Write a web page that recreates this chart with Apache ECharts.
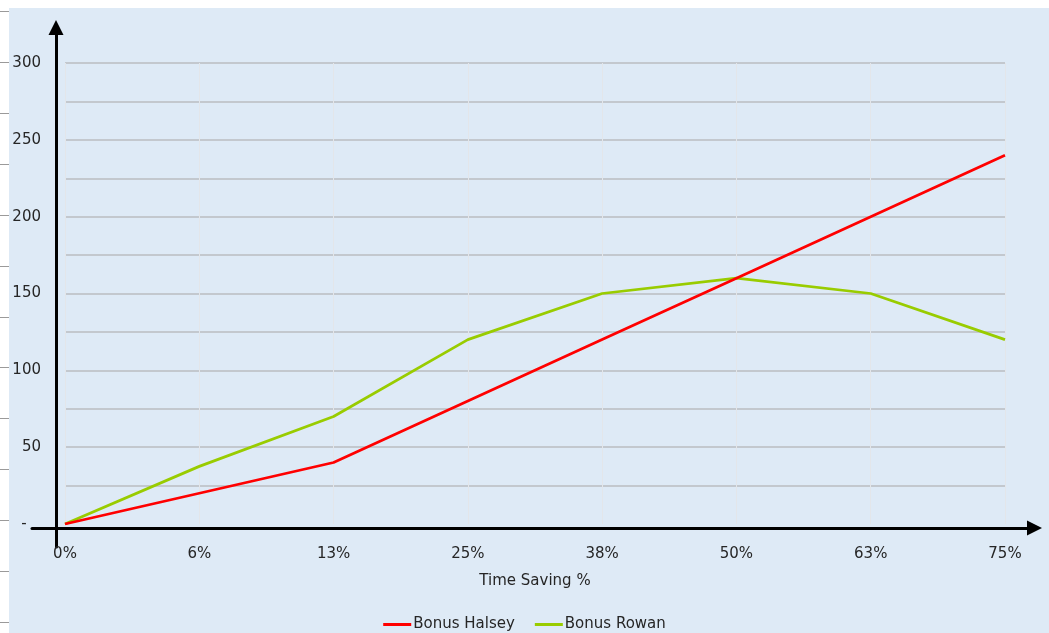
<!DOCTYPE html>
<html>
<head>
<meta charset="utf-8">
<title>Bonus vs Time Saving</title>
<script src="https://cdn.jsdelivr.net/npm/echarts@6/dist/echarts.min.js"></script>
<style>
  html, body { margin: 0; padding: 0; background: #ffffff; }
  #chart { width: 1049px; height: 633px; }
</style>
</head>
<body>
<div id="chart"></div>
<script>
// Time saving steps along the horizontal axis
const categories = ['0%', '6%', '13%', '25%', '38%', '50%', '63%', '75%'];
// Bonus values for each scheme
const bonusHalsey = [0, 20, 40, 80, 120, 160, 200, 240];
const bonusRowan = [0, 37.5, 70, 120, 150, 160, 150, 120];
// Value axis range
const yMin = 0;
const yMax = 300;
const yStep = 25;

const FONT = 'DejaVu Sans';
const TEXT = '#262626';

const chart = echarts.init(document.getElementById('chart'), null, { renderer: 'canvas' });

chart.setOption({
  animation: false,
  backgroundColor: '#ffffff',
  textStyle: { fontFamily: FONT },
  graphic: [
    {
      type: 'rect',
      z: -10,
      left: 9,
      top: 8,
      shape: { width: 1040, height: 625 },
      style: { fill: '#DEEAF6' },
      silent: true
    }
  ],
  legend: {
    top: 612,
    left: 'center',
    itemWidth: 28,
    itemHeight: 3,
    itemGap: 20,
    icon: 'rect',
    textStyle: { fontFamily: FONT, fontSize: 15, color: TEXT, padding: [0, 0, 0, -3] },
    data: ['Bonus Halsey', 'Bonus Rowan']
  },
  grid: [
    // plotting area
    { left: 65, right: 44, top: 63, bottom: 109 },
    // horizontal arrow axis
    { left: 32, right: 14.5, top: 300, bottom: 105 },
    // vertical arrow axis
    { left: 56, right: 900, top: 27.5, bottom: 86 },
    // tick strip at the left edge
    { left: 9, width: 1, top: 11.7, bottom: 11 }
  ],
  xAxis: [
    {
      gridIndex: 0,
      type: 'category',
      data: categories,
      boundaryGap: false,
      axisLine: { show: false },
      axisTick: { show: false },
      axisLabel: { fontFamily: FONT, fontSize: 15, color: TEXT, margin: 23 },
      splitLine: { show: true, lineStyle: { color: '#E3E6EA', width: 1 } },
      name: 'Time Saving %',
      nameLocation: 'middle',
      nameGap: 50,
      nameTextStyle: { fontFamily: FONT, fontSize: 15, color: TEXT }
    },
    {
      gridIndex: 1,
      type: 'value',
      min: 0, max: 1,
      position: 'bottom',
      axisLine: {
        show: true, onZero: false,
        lineStyle: { color: '#000000', width: 3 },
        symbol: ['none', 'triangle'],
        symbolSize: [15, 15]
      },
      axisTick: { show: false },
      axisLabel: { show: false },
      splitLine: { show: false }
    },
    { gridIndex: 2, type: 'value', show: false, min: 0, max: 1 },
    { gridIndex: 3, type: 'value', show: false, min: 0, max: 1 }
  ],
  yAxis: [
    {
      gridIndex: 0,
      type: 'value',
      min: yMin,
      max: yMax,
      interval: yStep,
      axisLine: { show: false },
      axisTick: { show: false },
      axisLabel: {
        fontFamily: FONT,
        fontSize: 15,
        color: TEXT,
        margin: 24,
        formatter: function (v) {
          if (v === 0) return '-   ';
          return v % 50 === 0 ? String(v) : '';
        }
      },
      splitLine: { show: true, showMinLine: false, lineStyle: { color: '#BABDC1', width: 1.5 } }
    },
    { gridIndex: 1, type: 'value', show: false, min: 0, max: 1 },
    {
      gridIndex: 2,
      type: 'value',
      min: 0, max: 1,
      position: 'left',
      axisLine: {
        show: true, onZero: false,
        lineStyle: { color: '#000000', width: 3 },
        symbol: ['none', 'triangle'],
        symbolSize: [15, 15]
      },
      axisTick: { show: false },
      axisLabel: { show: false },
      splitLine: { show: false }
    },
    {
      gridIndex: 3,
      type: 'value',
      min: 0, max: 12, interval: 1,
      position: 'left',
      axisLine: { show: false },
      axisTick: { show: true, length: 9, lineStyle: { color: '#9A9A9A', width: 1 } },
      axisLabel: { show: false },
      splitLine: { show: false }
    }
  ],
  series: [
    {
      name: 'Bonus Halsey',
      type: 'line',
      xAxisIndex: 0,
      yAxisIndex: 0,
      data: bonusHalsey,
      showSymbol: false,
      symbol: 'none',
      lineStyle: { color: '#FF0000', width: 2.75 },
      itemStyle: { color: '#FF0000' },
      z: 3
    },
    {
      name: 'Bonus Rowan',
      type: 'line',
      xAxisIndex: 0,
      yAxisIndex: 0,
      data: bonusRowan,
      showSymbol: false,
      symbol: 'none',
      lineStyle: { color: '#99CC00', width: 2.75 },
      itemStyle: { color: '#99CC00' },
      z: 2
    }
  ]
});
</script>
</body>
</html>
